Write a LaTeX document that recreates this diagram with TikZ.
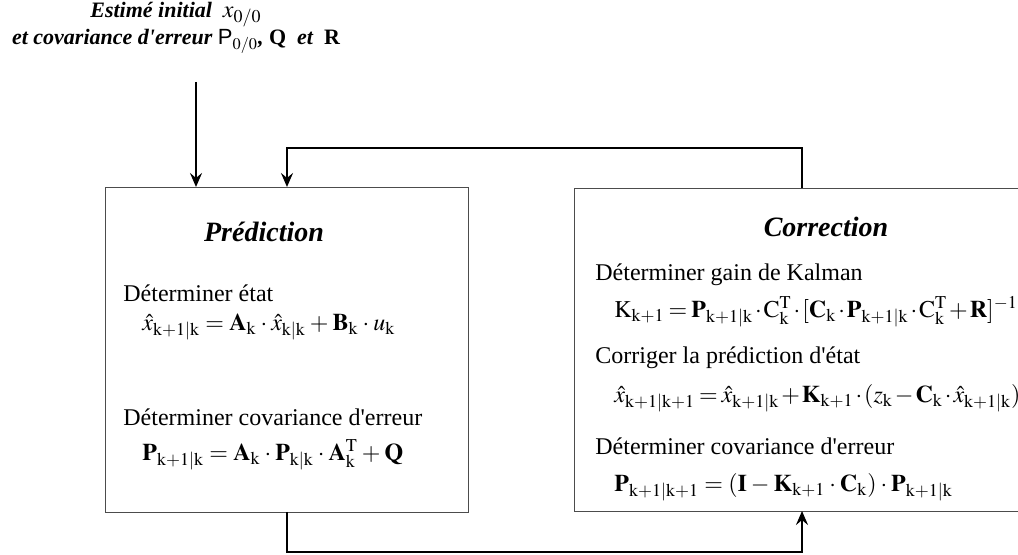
\documentclass[tikz,border=0pt]{standalone}
\usepackage{mathptmx}
\usepackage{fontspec}
\setmainfont{Liberation Serif}[Ligatures=TeXOff]
\setsansfont{Liberation Sans}
\usetikzlibrary{arrows.meta}

\newcommand{\ix}[1]{_{\mathrm{#1}}}

\tikzset{
	etape/.style={draw=black!70, line width=0.7pt, anchor=north west, inner sep=0pt},
	titre/.style={font=\fontsize{14}{16}\selectfont\bfseries\itshape, inner sep=0pt},
	texte/.style={font=\fontsize{12}{14}\selectfont, anchor=west, inner sep=0pt},
	formule/.style={font=\fontsize{12}{14}\selectfont, anchor=west, inner sep=0pt,
		execute at begin node={\thickmuskip=4mu plus 2mu\medmuskip=3mu plus 1mu}},
	serre/.style={execute at begin node={\thickmuskip=3mu\medmuskip=1.5mu}},
	fleche/.style={line width=1.4pt, -{Stealth[length=7pt, width=6pt, inset=2.5pt]}},
	lien/.style={line width=1.4pt}
}

\begin{document}
\begin{tikzpicture}[x=0.5pt, y=-0.5pt]
	\useasboundingbox (0,0) rectangle (1018,555);

	% conditions initiales
	\node[align=center, inner sep=0pt, font=\fontsize{11}{13.5}\selectfont\bfseries\itshape] (init) at (176,28)
		{Estimé initial\ \ {\large$x_{\mathrm{0/0}}$}\\
		 et covariance d'erreur {\mdseries\upshape\sffamily P}$\ix{0/0}$, {\upshape Q}\ \ et\ \ {\upshape R}};

	% les deux etapes
	\node[etape, minimum width=181.5pt, minimum height=162.5pt] (pred) at (105,187) {};
	\node[etape, minimum width=233pt, minimum height=161.5pt] (corr) at (574,188) {};

	\node[titre] (tpred) at (264,232) {Prédiction};
	\node[texte] (e1) at (123,293) {Déterminer état};
	\node[formule] (f1) at (142,327)
		{$\hat{x}\ix{k+1|k} = \mathbf{A}\ix{k}\cdot\hat{x}\ix{k|k} + \mathbf{B}\ix{k}\cdot u\ix{k}$};
	\node[texte] (e2) at (123,417) {Déterminer covariance d'erreur};
	\node[formule] (f2) at (142,455)
		{$\mathbf{P}\ix{k+1|k} = \mathbf{A}\ix{k}\cdot\mathbf{P}\ix{k|k}\cdot\mathbf{A}\ix{k}^{\mathrm{T}} + \mathbf{Q}$};

	\node[titre] (tcorr) at (826,227) {Correction};
	\node[texte] (e3) at (595,275) {Déterminer gain de Kalman};
	\node[formule, serre] (f3) at (614,312)
		{$\mathrm{K}\ix{k+1} = \mathbf{P}\ix{k+1|k}\cdot\mathrm{C}\ix{k}^{\mathrm{T}}\cdot[\mathbf{C}\ix{k}\cdot\mathbf{P}\ix{k+1|k}\cdot\mathrm{C}\ix{k}^{\mathrm{T}} + \mathbf{R}]^{-1}$};
	\node[texte] (e4) at (595,358) {Corriger la prédiction d'état};
	\node[formule, serre] (f4) at (614,398)
		{$\hat{x}\ix{k+1|k+1} = \hat{x}\ix{k+1|k} + \mathbf{K}\ix{k+1}\cdot(z\ix{k} - \mathbf{C}\ix{k}\cdot\hat{x}\ix{k+1|k})$};
	\node[texte] (e5) at (595,446) {Déterminer covariance d'erreur};
	\node[formule] (f5) at (614,487)
		{$\mathbf{P}\ix{k+1|k+1} = (\mathbf{I} - \mathbf{K}\ix{k+1}\cdot\mathbf{C}\ix{k})\cdot\mathbf{P}\ix{k+1|k}$};

	% points d'attache des fleches
	\coordinate (a0) at (196,82);
	\coordinate (p1) at (287,187);
	\coordinate (c1) at (802,188);
	\coordinate (p2) at (287,512);
	\coordinate (c2) at (802,511);

	\draw[fleche] (a0) -- (a0 |- pred.north);
	\draw[fleche] (c1) -- ++(0,-40) -| (p1);
	\draw[lien] (p2) -- ++(0,40) -| ([yshift=-4pt]c2);
	\draw[fleche] ([yshift=-4pt]c2) -- (c2);

\end{tikzpicture}
\end{document}
